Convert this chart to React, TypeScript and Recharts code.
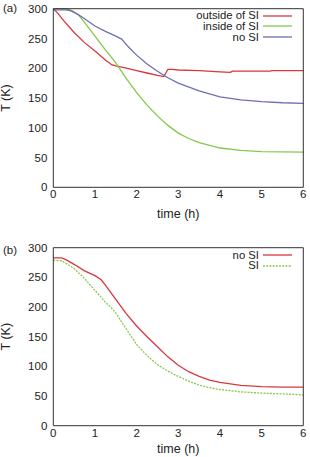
import React from "react";
import { LineChart, Line, XAxis, YAxis, Legend } from "recharts";

// ---- panel (a): temperature histories ----
const aOutsideTime = [0, 0.1, 0.25, 0.5, 0.75, 1, 1.25, 1.4, 1.5, 1.75, 2, 2.25, 2.5, 2.65, 2.7, 2.75, 2.85, 3, 3.5, 4, 4.25, 4.3, 4.5, 5, 5.2, 5.25, 5.5, 6];
const aOutsideT = [300, 293, 280, 260, 243, 229, 214, 206, 204, 200, 196, 192, 188, 186, 192, 198, 198, 197, 196, 194, 193, 195, 195, 195, 195, 196, 196, 196];

const aInsideTime = [0, 0.3, 0.45, 0.6, 0.75, 0.9, 1, 1.25, 1.5, 1.75, 2, 2.25, 2.5, 2.75, 3, 3.25, 3.5, 4, 4.5, 5, 5.5, 6];
const aInsideT = [300, 300, 297, 290, 277, 263, 254, 231, 209, 183, 159, 138, 120, 104, 91, 82, 75, 66, 62, 60, 59.5, 59];

const aNoSITime = [0, 0.3, 0.4, 0.6, 0.75, 1, 1.25, 1.5, 1.64, 1.8, 2, 2.25, 2.5, 2.75, 3, 3.5, 4, 4.5, 5, 5.5, 6];
const aNoSIT = [298, 298, 297, 290, 283, 271, 262, 254, 249, 236, 222, 207, 195, 184, 175, 162, 152, 147, 144, 142, 141];

// ---- panel (b) ----
const bNoSITime = [0, 0.2, 0.3, 0.5, 0.75, 1, 1.15, 1.25, 1.5, 1.75, 2, 2.25, 2.5, 2.75, 3, 3.25, 3.5, 3.75, 4, 4.25, 4.5, 5, 5.5, 6];
const bNoSIT = [283, 283, 280, 272, 261, 253, 246, 237, 213, 189, 168, 150, 133, 116, 102, 91, 83, 77, 73, 70.5, 68, 66, 65, 65];

const bSITime = [0, 0.2, 0.5, 0.75, 1, 1.12, 1.25, 1.4, 1.5, 1.75, 2, 2.25, 2.5, 2.75, 3, 3.25, 3.5, 3.75, 4, 4.5, 5, 5.5, 6];
const bSIT = [279, 278, 265, 248, 228, 219, 208, 198, 190, 163, 137, 118, 103, 92, 83, 75, 68.5, 64, 61, 57, 55, 53.5, 52];

const timeTicks = [0, 1, 2, 3, 4, 5, 6];
const tempTicks = [0, 50, 100, 150, 200, 250, 300];

const RED = "#d9363e";
const GREEN = "#86c84a";
const BLUE = "#6e6eb4";
const AXIS = "#333";
const FONT = "'Liberation Sans', Arial, sans-serif";

type Pt = { t: number; v: number };
const toPoints = (ts: number[], vs: number[]): Pt[] => ts.map((t, i) => ({ t, v: vs[i] }));

type SeriesDef = { name: string; color: string; points: Pt[]; dash?: string };

const tickStyle = { fontSize: 11.5, fill: "#222", fontFamily: FONT };

function LegendBox({ items }: { items: SeriesDef[] }) {
  return (
    <div style={{ fontFamily: FONT, fontSize: 11.3, color: "#222" }}>
      {items.map((s) => (
        <div key={s.name} style={{ display: "flex", alignItems: "center", justifyContent: "flex-end", height: 10.7, lineHeight: "10.7px" }}>
          <span style={{ whiteSpace: "nowrap" }}>{s.name}</span>
          <svg width={33} height={4}>
            <line x1={4} x2={33} y1={2} y2={2} stroke={s.color} strokeWidth={1.3} strokeDasharray={s.dash} />
          </svg>
        </div>
      ))}
    </div>
  );
}

function Panel({
  height,
  marginTop,
  xAxisHeight,
  labelOffset,
  legendTop,
  series,
}: {
  height: number;
  marginTop: number;
  xAxisHeight: number;
  labelOffset: number;
  legendTop: number;
  series: SeriesDef[];
}) {
  return (
    <LineChart width={310} height={height} margin={{ top: marginTop, right: 6.7, bottom: 0, left: 0 }}>
      {/* bottom axis with labels */}
      <XAxis
        xAxisId="b"
        type="number"
        dataKey="t"
        domain={[0, 6]}
        ticks={timeTicks}
        orientation="bottom"
        height={xAxisHeight}
        tickLine={false}
        tickSize={2}
        tickMargin={1}
        axisLine={{ stroke: AXIS }}
        tick={tickStyle}
        label={{ value: "time (h)", position: "insideBottom", offset: labelOffset, style: { fontSize: 12.5, fill: "#222", fontFamily: FONT } }}
      />
      {/* inward ticks along bottom */}
      <XAxis xAxisId="bm" type="number" domain={[0, 6]} ticks={timeTicks} orientation="bottom" mirror tick={false} tickSize={4} axisLine={false} tickLine={{ stroke: AXIS }} />
      {/* top frame with inward ticks */}
      <XAxis xAxisId="tm" type="number" domain={[0, 6]} ticks={timeTicks} orientation="top" mirror tick={false} tickSize={4} axisLine={{ stroke: AXIS }} tickLine={{ stroke: AXIS }} />
      <YAxis
        yAxisId="l"
        type="number"
        domain={[0, 300]}
        ticks={tempTicks}
        orientation="left"
        width={53.3}
        tickLine={false}
        tickSize={4}
        tickMargin={2}
        axisLine={{ stroke: AXIS }}
        tick={tickStyle}
        label={{ value: "T (K)", angle: -90, position: "insideLeft", offset: 6, style: { fontSize: 12.5, fill: "#222", fontFamily: FONT, textAnchor: "middle" } }}
      />
      <YAxis yAxisId="lm" type="number" domain={[0, 300]} ticks={tempTicks} orientation="left" mirror tick={false} tickSize={4} axisLine={false} tickLine={{ stroke: AXIS }} />
      <YAxis yAxisId="rm" type="number" domain={[0, 300]} ticks={tempTicks} orientation="right" mirror tick={false} tickSize={4} axisLine={{ stroke: AXIS }} tickLine={{ stroke: AXIS }} />
      <Legend
        layout="vertical"
        align="center"
        verticalAlign="middle"
        content={() => <LegendBox items={series} />}
        wrapperStyle={{ position: "absolute", top: legendTop, left: "auto", right: 18, width: "auto", bottom: "auto" }}
      />
      {series.map((s) => (
        <Line
          key={s.name}
          xAxisId="b"
          yAxisId="l"
          data={s.points}
          dataKey="v"
          name={s.name}
          type="linear"
          stroke={s.color}
          strokeWidth={1.3}
          strokeDasharray={s.dash}
          dot={false}
          activeDot={false}
          isAnimationActive={false}
        />
      ))}
    </LineChart>
  );
}

const panelLabel: React.CSSProperties = { position: "absolute", left: 3, fontFamily: FONT, fontSize: 11.5, color: "#222" };

export default function App() {
  const seriesA: SeriesDef[] = [
    { name: "outside of SI", color: RED, points: toPoints(aOutsideTime, aOutsideT) },
    { name: "inside of SI", color: GREEN, points: toPoints(aInsideTime, aInsideT) },
    { name: "no SI", color: BLUE, points: toPoints(aNoSITime, aNoSIT) },
  ];
  const seriesB: SeriesDef[] = [
    { name: "no SI", color: RED, points: toPoints(bNoSITime, bNoSIT) },
    { name: "SI", color: GREEN, points: toPoints(bSITime, bSIT), dash: "2 1.2" },
  ];
  return (
    <div style={{ position: "absolute", left: 0, top: 0, width: 310, height: 457, background: "#fff", overflow: "hidden" }}>
      <div style={{ position: "absolute", left: 0, top: 0 }}>
        <Panel height={225} marginTop={8.7} xAxisHeight={37.7} labelOffset={7} legendTop={10.3} series={seriesA} />
      </div>
      <div style={{ position: "absolute", left: 0, top: 225 }}>
        <Panel height={232} marginTop={22.7} xAxisHeight={31.3} labelOffset={4} legendTop={24.7} series={seriesB} />
      </div>
      <div style={{ ...panelLabel, top: 2 }}>(a)</div>
      <div style={{ ...panelLabel, top: 244 }}>(b)</div>
    </div>
  );
}
